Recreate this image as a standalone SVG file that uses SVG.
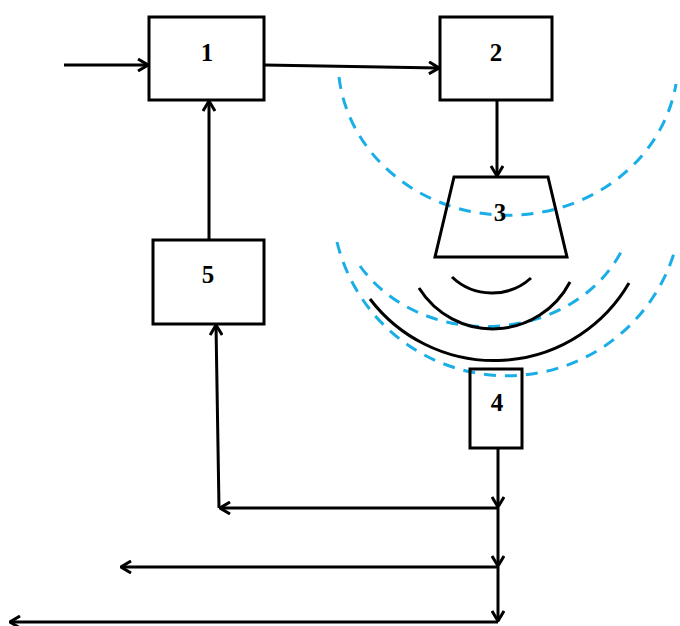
<svg xmlns="http://www.w3.org/2000/svg" width="680" height="626" viewBox="0 0 680 626">
<style>
.box{fill:none;stroke:#000;stroke-width:3}
.ln{fill:none;stroke:#000;stroke-width:3}
.wave{fill:none;stroke:#000;stroke-width:3}
.dash{fill:none;stroke:#1aaee6;stroke-width:3;stroke-dasharray:12 9}
.lbl{font-family:"Liberation Serif","Times New Roman",serif;font-weight:bold;font-size:25px;text-anchor:middle;fill:#000}
</style>
<defs>
<marker id="ah" viewBox="0 0 12 14" refX="11" refY="7" markerWidth="12" markerHeight="14" markerUnits="userSpaceOnUse" orient="auto">
<path d="M1,1 L11,7 L1,13" fill="none" stroke="#000" stroke-width="3"/>
</marker>
</defs>
<rect width="680" height="626" fill="#fff"/>
<g id="fields">
<path class="dash" d="M339,77 A170,155 0 0 0 676,84"/>
<path class="dash" d="M337,242 A175,175 0 0 0 675,250"/>
<path class="dash" d="M360,266 A148,127 0 0 0 622,250"/>
</g>
<g id="waves">
<path class="wave" d="M452,277 A58,58 0 0 0 531,278"/>
<path class="wave" d="M419,288 A87,87 0 0 0 570,282"/>
<path class="wave" d="M370,299 A156,156 0 0 0 629,283"/>
</g>
<g id="node1"><rect class="box" x="149" y="17" width="115" height="83"/><text class="lbl" x="207" y="61">1</text></g>
<g id="node2"><rect class="box" x="440" y="17" width="112" height="83"/><text class="lbl" x="496" y="61">2</text></g>
<g id="node3"><path class="box" d="M454,177 L548,177 L567,257 L435,257 Z"/><text class="lbl" x="500" y="221">3</text></g>
<g id="node4"><rect class="box" x="470" y="369" width="52" height="79"/><text class="lbl" x="497" y="411">4</text></g>
<g id="node5"><rect class="box" x="153" y="240" width="111" height="84"/><text class="lbl" x="208" y="283">5</text></g>
<g id="connectors">
<line class="ln" x1="64" y1="65" x2="148" y2="65" marker-end="url(#ah)"/>
<line class="ln" x1="264" y1="65" x2="439" y2="68" marker-end="url(#ah)"/>
<line class="ln" x1="497" y1="100" x2="497" y2="176" marker-end="url(#ah)"/>
<line class="ln" x1="209" y1="240" x2="209" y2="101" marker-end="url(#ah)"/>
<line class="ln" x1="219" y1="508" x2="216" y2="325" marker-end="url(#ah)"/>
<line class="ln" x1="498" y1="448" x2="498" y2="507" marker-end="url(#ah)"/>
<line class="ln" x1="498" y1="508" x2="498" y2="566" marker-end="url(#ah)"/>
<line class="ln" x1="498" y1="567" x2="498" y2="621" marker-end="url(#ah)"/>
<line class="ln" x1="498" y1="508" x2="220" y2="508" marker-end="url(#ah)"/>
<line class="ln" x1="498" y1="567" x2="121" y2="567" marker-end="url(#ah)"/>
<line class="ln" x1="498" y1="622" x2="10" y2="622" marker-end="url(#ah)"/>
</g>
</svg>
